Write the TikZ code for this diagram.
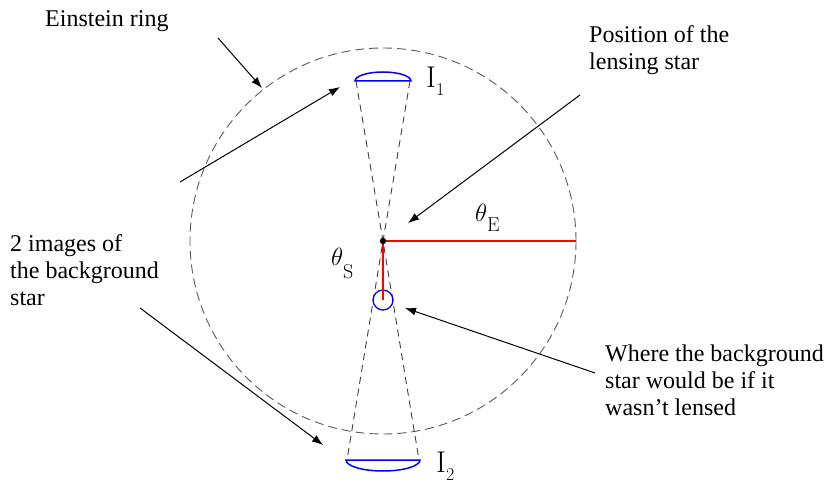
\documentclass[tikz,border=0pt]{standalone}
\usepackage{fontspec}
\newfontfamily\tnr{Liberation Serif}
\usetikzlibrary{arrows.meta}
\begin{document}
\begin{tikzpicture}[x=1pt,y=1pt,
  txt/.style={font=\tnr\fontsize{24}{27}\selectfont, inner sep=0pt, align=left, anchor=north west},
  lbl/.style={inner sep=0pt, anchor=base west},
  ptr/.style={line width=1pt, -{Latex[length=11pt,width=8pt]}},
  ringline/.style={black!65, line width=0.9pt, dash pattern=on 9pt off 5pt},
  coneline/.style={black!75, line width=0.9pt, dash pattern=on 7pt off 5pt},
  imgshape/.style={blue, line width=1.5pt},
  redline/.style={red, line width=1.1pt}]
\useasboundingbox (0,0) rectangle (830,485);
% key points
\coordinate (star) at (383,244);
\coordinate (ringR) at (576,244);
\coordinate (i1l) at (356,404);
\coordinate (i1r) at (410,404);
\coordinate (i2l) at (347,25);
\coordinate (i2r) at (419,25);
% Einstein ring
\draw[ringline] (star) circle[radius=193];
% cones
\draw[coneline] (i1l) -- (star) -- (i2r);
\draw[coneline] (i1r) -- (star) -- (i2l);
% images
\draw[imgshape] (355,404) arc[start angle=180,end angle=0,x radius=28,y radius=9] -- cycle;
\draw[imgshape] (346,25) arc[start angle=180,end angle=360,x radius=37,y radius=11] -- cycle;
% unlensed position
\node[circle, draw=blue, line width=1.3pt, minimum size=20pt, inner sep=0pt] (bgs) at (383,185) {};
% red radii
\draw[redline] (star) -- (ringR);
\draw[redline] (star) -- (bgs.center);
\fill (star) circle[radius=3.2];
% labels
\node[lbl] (thE) at (475,263) {\fontsize{33}{33}\selectfont$\theta$\raisebox{-10pt}{\fontsize{20}{20}\selectfont E}};
\node[lbl] (thS) at (331,219) {\fontsize{33}{33}\selectfont$\theta$\raisebox{-13pt}{\fontsize{20}{20}\selectfont S}};
\node[lbl] (I1) at (426,397) {\fontsize{30}{30}\selectfont I\raisebox{-8pt}{\fontsize{18}{18}\selectfont 1}};
\node[lbl] (I2) at (436,13) {\fontsize{30}{30}\selectfont I\raisebox{-8pt}{\fontsize{18}{18}\selectfont 2}};
% texts
\node[txt] (ering) at (45,475) {Einstein ring};
\node[txt] (pos) at (589,460) {Position of the\\lensing star};
\node[txt] (imgs) at (10,251) {2 images of\\the background\\star};
\node[txt] (where) at (605,140) {Where the background\\star would be if it\\wasn’t lensed};
% arrows
\coordinate (a1s) at (218,447);
\coordinate (a1t) at (262,397);
\coordinate (a2s) at (180,303);
\coordinate (a2t) at (340,398);
\coordinate (a3s) at (140,177);
\coordinate (a3t) at (323,40);
\coordinate (a4s) at (580,390);
\coordinate (a4t) at (408,262);
\coordinate (a5s) at (595,112);
\coordinate (a5t) at (405,177);
\draw[ptr] (a1s) -- (a1t);
\draw[ptr] (a2s) -- (a2t);
\draw[ptr] (a3s) -- (a3t);
\draw[ptr] (a4s) -- (a4t);
\draw[ptr] (a5s) -- (a5t);
\end{tikzpicture}
\end{document}
